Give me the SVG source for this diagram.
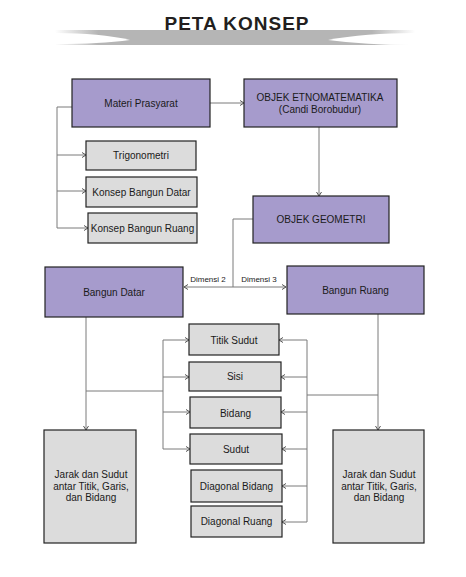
<svg xmlns="http://www.w3.org/2000/svg" width="466" height="577" viewBox="0 0 466 577">
<style>
.p{fill:#a69bcc;stroke:#222;stroke-width:1.2}
.g{fill:#dcdcdc;stroke:#222;stroke-width:1.2}
.t{font-family:"Liberation Sans",Arial,sans-serif;font-size:10px;fill:#1a1a1a;text-anchor:middle;dominant-baseline:central}
.s{font-size:8px}
.c{fill:none;stroke:#7a7a7a;stroke-width:1}
.a{marker-end:url(#ah)}
</style>
<defs>
<marker id="ah" markerWidth="6" markerHeight="6" refX="5" refY="3" orient="auto" markerUnits="userSpaceOnUse">
<path d="M1,0.5 L5,3 L1,5.5" fill="none" stroke="#555" stroke-width="1"/>
</marker>
<marker id="as" markerWidth="6" markerHeight="6" refX="1" refY="3" orient="auto" markerUnits="userSpaceOnUse">
<path d="M5,0.5 L1,3 L5,5.5" fill="none" stroke="#555" stroke-width="1"/>
</marker>
<linearGradient id="bg" x1="0" x2="1" y1="0" y2="0">
<stop offset="0" stop-color="#b5b5b5" stop-opacity="0"/>
<stop offset="0.12" stop-color="#b5b5b5"/>
<stop offset="0.88" stop-color="#b5b5b5"/>
<stop offset="1" stop-color="#b5b5b5" stop-opacity="0"/>
</linearGradient>
</defs>
<g id="title">
<rect x="55" y="30" width="360" height="15" fill="url(#bg)"/>
<path d="M55,33 Q100,33 130,40 Q100,44 55,44 Z" fill="#fff"/>
<path d="M415,33 Q365,33 328,40 Q365,45 415,45 Z" fill="#fff"/>
<text x="237" y="30" font-family="'Liberation Sans',Arial,sans-serif" font-weight="bold" font-size="19" letter-spacing="1" text-anchor="middle" fill="#231f20">PETA KONSEP</text>
</g>
<g id="connectors">
<path class="c a" d="M210,103 H244"/>
<path class="c" d="M72,107 H57 V228"/>
<path class="c a" d="M57,155 H86"/>
<path class="c a" d="M57,191 H86"/>
<path class="c a" d="M57,228 H88"/>
<path class="c a" d="M319,127 V196"/>
<path class="c" d="M253,219 H233 V287"/>
<path class="c" d="M184,287 H286" marker-start="url(#as)" marker-end="url(#ah)"/>
<path class="c a" d="M86,317 V430"/>
<path class="c" d="M86,391 H163"/>
<path class="c" d="M163,340 V449"/>
<path class="c a" d="M163,340 H189"/>
<path class="c a" d="M163,377 H189"/>
<path class="c a" d="M163,412 H190"/>
<path class="c a" d="M163,449 H190"/>
<path class="c a" d="M378,314 V430"/>
<path class="c" d="M378,395 H307"/>
<path class="c" d="M307,340 V522"/>
<path class="c a" d="M307,340 H279"/>
<path class="c a" d="M307,377 H281"/>
<path class="c a" d="M307,412 H281"/>
<path class="c a" d="M307,449 H282"/>
<path class="c a" d="M307,486 H282"/>
<path class="c a" d="M307,522 H282"/>
<text class="t s" x="208" y="279">Dimensi 2</text>
<text class="t s" x="259" y="279">Dimensi 3</text>
</g>
<g id="materi"><rect class="p" x="72" y="79" width="138" height="48"/><text class="t" x="141" y="103">Materi Prasyarat</text></g>
<g id="etno"><rect class="p" x="244" y="79" width="153" height="48"/><text class="t" x="320" y="97">OBJEK ETNOMATEMATIKA</text><text class="t" x="320" y="109">(Candi Borobudur)</text></g>
<g id="trigono"><rect class="g" x="86" y="141" width="110" height="29"/><text class="t" x="141" y="155.5">Trigonometri</text></g>
<g id="kbd"><rect class="g" x="86" y="177" width="111" height="30"/><text class="t" x="141.5" y="192">Konsep Bangun Datar</text></g>
<g id="kbr"><rect class="g" x="88" y="213" width="109" height="30"/><text class="t" x="142.5" y="228">Konsep Bangun Ruang</text></g>
<g id="geometri"><rect class="p" x="253" y="196" width="136" height="47"/><text class="t" x="321" y="219.5">OBJEK GEOMETRI</text></g>
<g id="datar"><rect class="p" x="45" y="267" width="138" height="50"/><text class="t" x="114" y="292">Bangun Datar</text></g>
<g id="ruang"><rect class="p" x="287" y="266" width="137" height="48"/><text class="t" x="355.5" y="290">Bangun Ruang</text></g>
<g id="titik"><rect class="g" x="189" y="324" width="90" height="31"/><text class="t" x="234" y="340">Titik Sudut</text></g>
<g id="sisi"><rect class="g" x="189" y="362" width="92" height="29"/><text class="t" x="235" y="376.5">Sisi</text></g>
<g id="bidang"><rect class="g" x="190" y="397" width="91" height="31"/><text class="t" x="235.5" y="413">Bidang</text></g>
<g id="sudut"><rect class="g" x="190" y="434" width="92" height="30"/><text class="t" x="236" y="449">Sudut</text></g>
<g id="diagb"><rect class="g" x="191" y="470" width="91" height="32"/><text class="t" x="236.5" y="486">Diagonal Bidang</text></g>
<g id="diagr"><rect class="g" x="191" y="506" width="91" height="31"/><text class="t" x="236.5" y="521.5">Diagonal Ruang</text></g>
<g id="jarak1"><rect class="g" x="44" y="430" width="92" height="113"/><text class="t" x="91" y="474">Jarak dan Sudut</text><text class="t" x="91" y="486">antar Titik, Garis,</text><text class="t" x="91" y="497">dan Bidang</text></g>
<g id="jarak2"><rect class="g" x="333" y="430" width="91" height="113"/><text class="t" x="379" y="474">Jarak dan Sudut</text><text class="t" x="379" y="486">antar Titik, Garis,</text><text class="t" x="379" y="497">dan Bidang</text></g>
</svg>
